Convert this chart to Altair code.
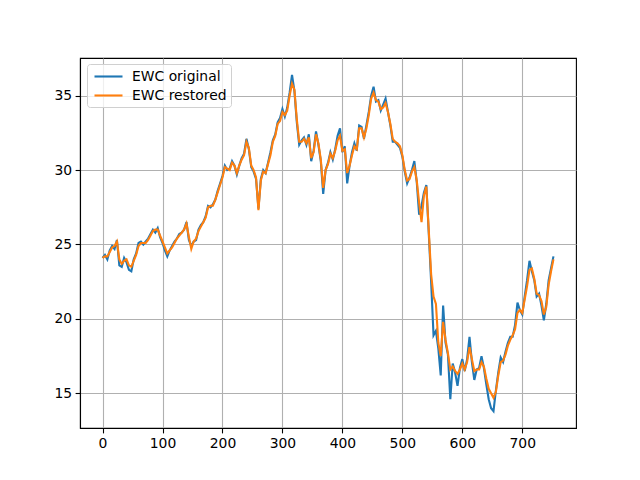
import altair as alt
import pandas as pd

STEP = 4

original = [
    24.1, 24.3, 24.0, 24.6, 24.9, 24.7, 25.3, 23.6, 23.5, 24.1,
    23.8, 23.3, 23.2, 24.0, 24.4, 25.1, 25.2, 25.0, 25.2, 25.4,
    25.7, 26.0, 25.8, 26.1, 25.5, 25.1, 24.6, 24.2, 24.6, 24.9,
    25.2, 25.4, 25.7, 25.8, 26.0, 26.5, 25.3, 24.9, 25.2, 25.3,
    26.0, 26.3, 26.5, 26.9, 27.6, 27.5, 27.7, 28.0, 28.6, 29.1,
    29.6, 30.3, 30.0, 30.1, 30.6, 30.3, 29.7, 30.3, 30.8, 31.1,
    32.1, 31.4, 30.2, 29.9, 29.4, 27.4, 29.4, 30.0, 29.8, 30.5,
    31.2, 32.0, 32.4, 33.2, 33.5, 34.1, 33.6, 34.2, 35.2, 36.4,
    35.3, 33.2, 31.7, 32.0, 32.2, 31.7, 32.4, 30.6, 31.3, 32.6,
    31.7, 30.6, 28.4, 30.0, 30.5, 31.2, 30.7, 31.4, 32.3, 32.8,
    31.2, 31.6, 29.1, 30.3, 31.2, 31.8, 31.3, 33.0, 32.9, 32.1,
    33.0, 33.9, 35.0, 35.6, 34.6, 34.7, 34.0, 34.4, 34.8, 33.9,
    33.0, 31.9, 31.9, 31.7, 31.5, 30.9, 29.9, 29.1, 29.5, 30.0,
    30.6, 29.2, 27.0, 27.6, 28.5, 29.0, 25.8, 22.5, 18.9, 19.2,
    18.0, 16.2, 20.9, 18.4, 17.6, 14.6, 17.0, 16.4, 15.5, 16.7,
    17.3, 16.5, 17.3, 18.8, 17.1, 15.9, 16.6, 16.7, 17.5, 16.7,
    15.6, 14.6, 14.0, 13.8, 15.2, 16.4, 17.4, 17.1, 17.8, 18.4,
    18.8, 18.8, 19.6, 21.1, 20.6, 20.3, 21.5, 22.6, 23.9, 23.2,
    22.6, 21.5, 21.7, 20.9, 19.9, 21.0, 22.6, 23.4, 24.2,
]

restored = [
    24.1, 24.2, 24.2, 24.5, 24.8, 24.9, 25.2, 24.0, 23.7, 23.9,
    24.0, 23.6, 23.5, 23.9, 24.3, 24.9, 25.1, 25.1, 25.1, 25.3,
    25.6, 25.9, 26.0, 26.0, 25.6, 25.2, 24.8, 24.4, 24.6, 24.8,
    25.1, 25.4, 25.6, 25.8, 26.0, 26.4, 25.5, 24.7, 25.2, 25.4,
    25.9, 26.2, 26.5, 26.8, 27.5, 27.6, 27.6, 28.0, 28.5, 29.0,
    29.5, 30.2, 30.1, 30.0, 30.5, 30.3, 29.8, 30.3, 30.7, 31.0,
    31.9, 31.5, 30.3, 30.0, 29.5, 27.3, 29.3, 29.9, 29.8, 30.4,
    31.0, 31.9, 32.3, 33.1, 33.3, 33.9, 33.7, 34.0, 35.0, 35.8,
    35.4, 33.4, 31.9, 31.9, 32.1, 31.8, 32.2, 30.8, 31.2, 32.4,
    31.8, 30.7, 28.8, 30.0, 30.4, 31.1, 30.8, 31.3, 32.0, 32.3,
    31.3, 31.4, 29.8, 30.3, 31.0, 31.6, 31.4, 32.8, 32.8, 32.2,
    32.8, 33.7, 34.8, 35.2, 34.7, 34.6, 34.1, 34.2, 34.5, 33.9,
    33.1, 32.1, 31.9, 31.8, 31.6, 31.0, 30.0, 29.3, 29.4, 29.9,
    30.2, 29.3, 27.8, 26.5, 28.3, 28.9, 26.0, 23.0, 21.5, 21.0,
    18.4, 17.5, 19.8, 18.6, 17.7, 16.6, 16.8, 16.5, 16.3, 16.6,
    17.0, 16.6, 17.1, 18.1, 17.3, 16.5, 16.6, 16.6, 17.1, 16.8,
    16.0, 15.3, 15.0, 14.7, 15.1, 16.2, 17.1, 17.2, 17.6, 18.2,
    18.6, 18.9, 19.3, 20.4, 20.6, 20.4, 21.3, 22.2, 23.3, 23.4,
    22.7, 21.7, 21.6, 21.2, 20.3, 20.8, 22.3, 23.2, 24.0,
]

series_names = ["EWC original", "EWC restored"]
series_colors = ["#1f77b4", "#ff7f0e"]
x_ticks = [0, 100, 200, 300, 400, 500, 600, 700]
y_ticks = [15, 20, 25, 30, 35]

n = len(original)
xs = [i * STEP for i in range(n)]
df = pd.DataFrame({
    "x": xs + xs,
    "value": original + restored,
    "series": [series_names[0]] * n + [series_names[1]] * n,
})

xmin, xmax = min(xs), max(xs)
xr = xmax - xmin
allv = original + restored
ymin, ymax = min(allv), max(allv)
yr = ymax - ymin

chart = alt.Chart(df).mark_line(strokeWidth=2.1, clip=True).encode(
    x=alt.X("x:Q",
            scale=alt.Scale(domain=[xmin - 0.05 * xr, xmax + 0.05 * xr], nice=False, zero=False),
            axis=alt.Axis(values=x_ticks, title=None, format="d")),
    y=alt.Y("value:Q",
            scale=alt.Scale(domain=[ymin - 0.05 * yr, ymax + 0.05 * yr], nice=False, zero=False),
            axis=alt.Axis(values=y_ticks, title=None, format="d")),
    color=alt.Color("series:N",
                    scale=alt.Scale(domain=series_names, range=series_colors),
                    legend=alt.Legend(
                        title=None, orient="none", legendX=7, legendY=6,
                        symbolType="M-2,0H2", symbolSize=196, symbolStrokeWidth=2.1,
                        symbolOffset=9,
                        labelFont="DejaVu Sans", labelFontSize=13.9, labelColor="black",
                        labelOffset=15, rowPadding=3, padding=4,
                        strokeColor="#d0d0d0", fillColor="rgba(255,255,255,0.8)",
                        cornerRadius=3,
                    )),
).properties(
    width=496, height=370,
    padding={"left": 72, "top": 50, "right": 56, "bottom": 44},
    autosize=alt.AutoSizeParams(type="none"),
).configure_view(
    stroke="black", strokeWidth=1.1
).configure_axis(
    labelFont="DejaVu Sans", labelFontSize=13.9, labelColor="black",
    tickColor="black", tickSize=4.9, tickWidth=1.1,
    domainColor="black", domainWidth=1.1,
    grid=True, gridColor="#b0b0b0", gridWidth=1.1,
    labelPadding=3.5,
)

chart.save("out.html", embed_options={"renderer": "svg", "actions": False})
